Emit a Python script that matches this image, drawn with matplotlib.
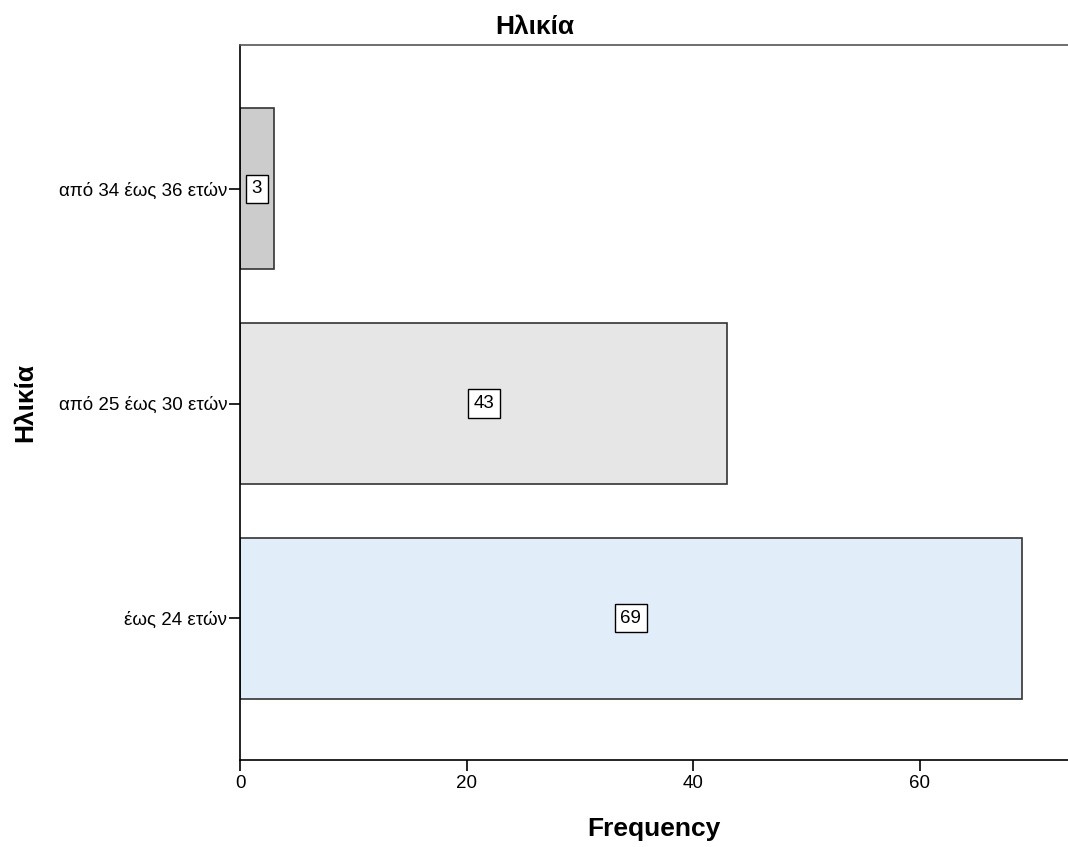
import matplotlib.pyplot as plt

plt.rcParams['font.family'] = ['Liberation Sans', 'DejaVu Sans']

categories = ['έως 24 ετών', 'από 25 έως 30 ετών', 'από 34 έως 36 ετών']
counts = [69, 43, 3]
bar_colors = ['#e1eefa', '#e6e6e6', '#cccccc']

fig = plt.figure(figsize=(10.68, 8.47), dpi=100)
ax = fig.add_axes([240 / 1068, 87 / 847, 1 - 240 / 1068, 715 / 847])

pos = range(len(categories))
ax.barh(pos, counts, height=0.75, color=bar_colors, edgecolor='#333333', linewidth=1.2)

for y, v in zip(pos, counts):
    ax.text(v / 2, y, str(v), ha='center', va='center', fontsize=13.5,
            bbox=dict(boxstyle='square,pad=0.3', facecolor='white', edgecolor='black', linewidth=1))

ax.set_xlim(0, 73.1)
ax.set_ylim(-0.66, 2.67)
ax.set_yticks(list(pos))
ax.set_yticklabels(categories, fontsize=13.5)
ax.set_xticks([0, 20, 40, 60])
ax.tick_params(axis='x', labelsize=13.5, length=8, width=1.2, pad=3)
ax.tick_params(axis='y', length=8, width=1.2, pad=1)

ax.spines['right'].set_visible(False)
for s in ['left', 'bottom', 'top']:
    ax.spines[s].set_linewidth(1.2)
ax.spines['top'].set_color('#555555')

ax.set_xlabel('Frequency', fontsize=19, fontweight='bold', labelpad=18)
fig.text(25 / 1068, 1 - 402 / 847, 'Ηλικία', rotation=90, ha='center', va='center',
         fontsize=19, fontweight='bold')
fig.text(535 / 1068, 1 - 27 / 847, 'Ηλικία', ha='center', va='center',
         fontsize=19, fontweight='bold')

fig.savefig('out.png', dpi=100)
